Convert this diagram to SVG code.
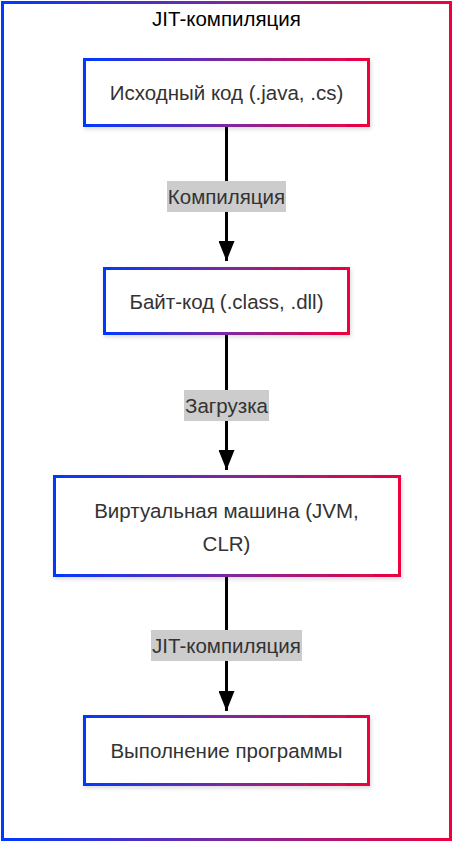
<svg xmlns="http://www.w3.org/2000/svg" width="453" height="842" viewBox="0 0 453 842">
<defs>
<linearGradient id="grad" x1="0" y1="0" x2="1" y2="0">
<stop offset="0" stop-color="#0039ff"/>
<stop offset="0.5" stop-color="#7a2aa0"/>
<stop offset="1" stop-color="#f0003c"/>
</linearGradient>
<filter id="shadow" x="-10%" y="-10%" width="120%" height="130%">
<feDropShadow dx="1" dy="2" stdDeviation="2" flood-color="#000" flood-opacity="0.15"/>
</filter>
<marker id="arrow" viewBox="0 0 20 16" refX="20" refY="8" markerWidth="20" markerHeight="16" markerUnits="userSpaceOnUse" orient="auto">
<path d="M0,0 L20,8 L0,16 Z" fill="#000"/>
</marker>
<style>
.frame{fill:none;stroke:url(#grad);stroke-width:3}
.node rect{fill:#fff;stroke:url(#grad);stroke-width:3;filter:url(#shadow)}
.node text{font-family:"Liberation Sans",Arial,sans-serif;font-size:20.5px;fill:#333;text-anchor:middle;dominant-baseline:central}
.title{font-family:"Liberation Sans",Arial,sans-serif;font-size:20.5px;fill:#000;text-anchor:middle;dominant-baseline:central}
.edge{stroke:#000;stroke-width:3;fill:none;marker-end:url(#arrow)}
.lbl rect{fill:#cccccc}
.lbl text{font-family:"Liberation Sans",Arial,sans-serif;font-size:20.5px;fill:#333;text-anchor:middle;dominant-baseline:central}
</style>
</defs>
<rect class="frame" x="2.5" y="2.5" width="448" height="837"/>
<text class="title" x="226.5" y="18">JIT-компиляция</text>
<g id="connectors">
<path class="edge" d="M226.5,126 L226.5,261"/>
<path class="edge" d="M226.5,334 L226.5,470"/>
<path class="edge" d="M226.5,576 L226.5,711"/>
<g class="lbl"><rect x="167" y="181" width="119" height="31"/><text x="226.5" y="196.5">Компиляция</text></g>
<g class="lbl"><rect x="184" y="390" width="85" height="31"/><text x="226.5" y="405.5">Загрузка</text></g>
<g class="lbl"><rect x="151" y="630" width="151" height="31"/><text x="226.5" y="645.5">JIT-компиляция</text></g>
</g>
<g id="node1" class="node"><rect x="84.5" y="59.5" width="284" height="66"/><text x="226.5" y="92.5">Исходный код (.java, .cs)</text></g>
<g id="node2" class="node"><rect x="104.5" y="268.5" width="244" height="65"/><text x="226.5" y="301">Байт-код (.class, .dll)</text></g>
<g id="node3" class="node"><rect x="54.5" y="476.5" width="345" height="99"/><text x="226.5" y="510">Виртуальная машина (JVM,</text><text x="226.5" y="543">CLR)</text></g>
<g id="node4" class="node"><rect x="84.5" y="716.5" width="284" height="68"/><text x="226.5" y="750.5">Выполнение программы</text></g>
</svg>
